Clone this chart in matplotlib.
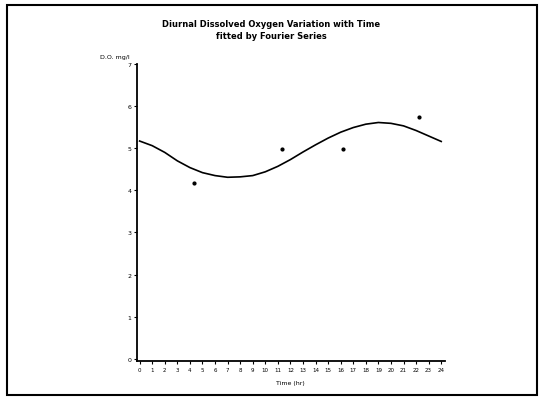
import matplotlib.pyplot as plt
from matplotlib.patches import Rectangle

# fitted Fourier curve at each hour
hours = list(range(25))
do_fit = [5.17, 5.06, 4.90, 4.70, 4.54, 4.42, 4.35, 4.31, 4.32, 4.35, 4.44,
          4.57, 4.73, 4.91, 5.08, 5.24, 5.38, 5.49, 5.57, 5.61, 5.59, 5.53,
          5.42, 5.29, 5.16]

# measured points
obs_hours = [4.3, 11.3, 16.2, 22.2]
obs_do = [4.18, 4.98, 4.99, 5.75]

y_ticks = [0, 1, 2, 3, 4, 5, 6, 7]

fig = plt.figure(figsize=(5.42, 4.02), dpi=100)
fig.patches.append(Rectangle((0.012, 0.015), 0.978, 0.97, transform=fig.transFigure,
                             fill=False, edgecolor='black', linewidth=1.5))

ax = fig.add_axes([0.253, 0.0995, 0.568, 0.739])
ax.plot(hours, do_fit, color='black', linewidth=1.2)
ax.scatter(obs_hours, obs_do, color='black', s=4, zorder=3)

ax.set_xlim(-0.2, 24.3)
ax.set_ylim(-0.05, 7.0)
ax.set_xticks(hours)
ax.set_xticklabels([str(h) for h in hours], fontsize=4)
ax.set_yticks(y_ticks)
ax.set_yticklabels([str(v) for v in y_ticks], fontsize=4.5)
ax.tick_params(length=2, width=0.8, pad=2)
for s in ['top', 'right']:
    ax.spines[s].set_visible(False)
for s in ['left', 'bottom']:
    ax.spines[s].set_linewidth(1.3)

fig.text(0.5, 0.94, 'Diurnal Dissolved Oxygen Variation with Time',
         ha='center', va='center', fontsize=6, fontweight='bold')
fig.text(0.5, 0.91, 'fitted by Fourier Series',
         ha='center', va='center', fontsize=6, fontweight='bold')
fig.text(0.185, 0.858, 'D.O. mg/l', ha='left', va='center', fontsize=4.5)
fig.text(0.535, 0.047, 'Time (hr)', ha='center', va='center', fontsize=4.5)

fig.savefig('out.png', dpi=100)
